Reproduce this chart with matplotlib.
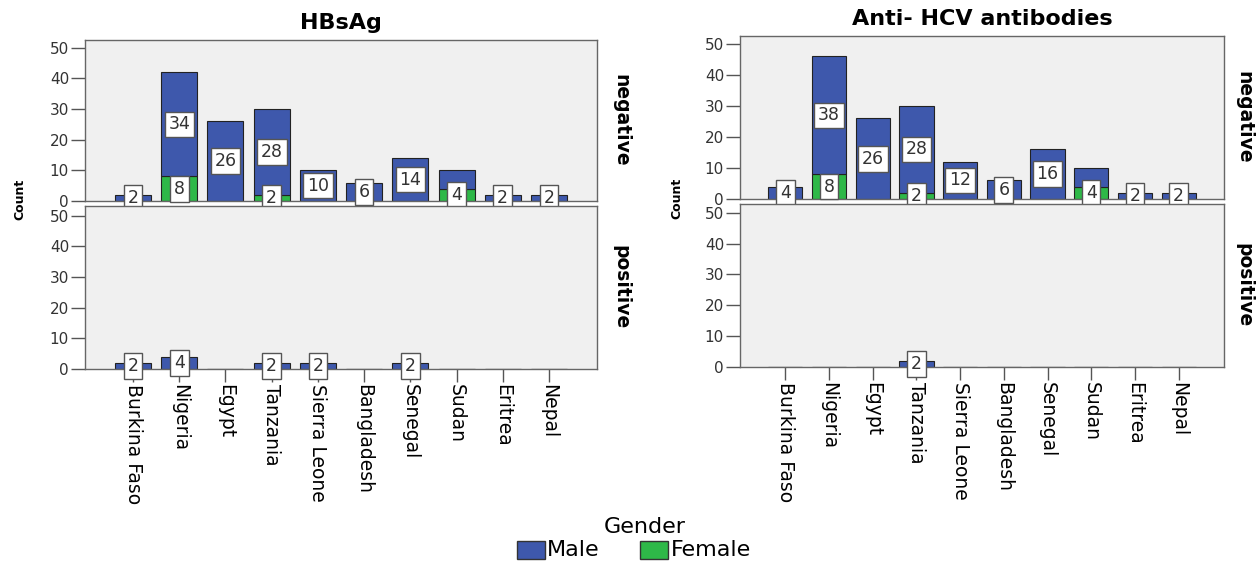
import matplotlib
matplotlib.use("Agg")
import matplotlib.pyplot as plt
from matplotlib.patches import Rectangle
import numpy as np

plt.rcParams['font.family'] = ['DejaVu Sans']

countries = ["Burkina Faso", "Nigeria", "Egypt", "Tanzania", "Sierra Leone",
             "Bangladesh", "Senegal", "Sudan", "Eritrea", "Nepal"]

# HBsAg
hbs_neg_male = [2, 34, 26, 28, 10, 6, 14, 6, 2, 2]
hbs_neg_female = [0, 8, 0, 2, 0, 0, 0, 4, 0, 0]
hbs_pos_male = [2, 4, 0, 2, 2, 0, 2, 0, 0, 0]
hbs_pos_female = [0, 0, 0, 0, 0, 0, 0, 0, 0, 0]
# Anti-HCV antibodies
hcv_neg_male = [4, 38, 26, 28, 12, 6, 16, 6, 2, 2]
hcv_neg_female = [0, 8, 0, 2, 0, 0, 0, 4, 0, 0]
hcv_pos_male = [0, 0, 0, 2, 0, 0, 0, 0, 0, 0]
hcv_pos_female = [0, 0, 0, 0, 0, 0, 0, 0, 0, 0]
# male-segment labels not displayed in the original (Sudan)
hidden_male_label = ["Sudan"]

yticks = [0, 10, 20, 30, 40, 50]
MALE = "#3E58AC"
FEMALE = "#2EB848"

W, H = 1259, 562
fig = plt.figure(figsize=(W / 100, H / 100), dpi=100)


def px_axes(x0, x1, y0, y1):
    return fig.add_axes([x0 / W, 1 - y1 / H, (x1 - x0) / W, (y1 - y0) / H])


def box_label(ax, x, y, val):
    ax.text(x, y, str(val), ha="center", va="center", fontsize=12.5, color="#333333",
            zorder=5, clip_on=False,
            bbox=dict(boxstyle="square,pad=0.22", fc="white", ec="#555555", lw=1))


def draw(ax, male, female, bottom_panel, ytop):
    x = np.arange(len(countries))
    ax.set_facecolor("#F0F0F0")
    ax.bar(x, female, width=0.78, color=FEMALE, edgecolor="#222222", linewidth=0.8, zorder=2)
    ax.bar(x, male, width=0.78, bottom=female, color=MALE, edgecolor="#222222", linewidth=0.8, zorder=2)
    for i in range(len(countries)):
        if female[i] > 0:
            box_label(ax, x[i], female[i] / 2, female[i])
        if male[i] > 0 and countries[i] not in hidden_male_label:
            box_label(ax, x[i], female[i] + male[i] / 2, male[i])
    ax.set_xlim(-1.04, len(countries) - 1 + 1.04)
    ax.set_ylim(0, ytop)
    ax.set_yticks(yticks)
    ax.tick_params(axis="y", direction="out", length=10, width=1, color="#555555",
                   labelcolor="#333333", labelsize=11, pad=1.5)
    for s in ax.spines.values():
        s.set_color("#666666")
        s.set_linewidth(1)
    ax.set_xticks(x)
    if bottom_panel:
        ax.set_xticklabels(countries, rotation=-90, ha="center", va="top", fontsize=13.5)
        ax.tick_params(axis="x", direction="out", length=9, width=1, color="#555555", pad=2)
    else:
        ax.tick_params(axis="x", bottom=False, labelbottom=False)


# Left facet (HBsAg)
axLT = px_axes(85, 597, 40, 201)
axLB = px_axes(85, 597, 206, 369)
draw(axLT, hbs_neg_male, hbs_neg_female, False, 52.5)
draw(axLB, hbs_pos_male, hbs_pos_female, True, 53.2)
axLT.set_title("HBsAg", fontsize=16, fontweight="bold", pad=8)

# Right facet (Anti-HCV)
axRT = px_axes(740, 1224, 36, 199)
axRB = px_axes(740, 1224, 204, 367)
draw(axRT, hcv_neg_male, hcv_neg_female, False, 52.6)
draw(axRB, hcv_pos_male, hcv_pos_female, True, 52.8)
axRT.set_title("Anti- HCV antibodies", fontsize=16, fontweight="bold", pad=8)

# strip labels
for ax, lab, xc in [(axLT, "negative", 621), (axLB, "positive", 621),
                    (axRT, "negative", 1244), (axRB, "positive", 1244)]:
    bb = ax.get_position()
    fig.text(xc / W, (bb.y0 + bb.y1) / 2, lab, rotation=-90, ha="center", va="center",
             fontsize=13.5, fontweight="bold")

# Count labels
fig.text(20 / W, 1 - 199 / H, "Count", rotation=90, ha="center", va="center", fontsize=9, fontweight="bold")
fig.text(677 / W, 1 - 198 / H, "Count", rotation=90, ha="center", va="center", fontsize=9, fontweight="bold")

# Legend
fig.text(645 / W, 1 - 527 / H, "Gender", ha="center", va="center", fontsize=16)
fig.add_artist(Rectangle((517 / W, 1 - 559 / H), 28 / W, 18 / H, transform=fig.transFigure,
                         fc=MALE, ec="#333333", lw=1))
fig.text(547 / W, 1 - 550 / H, "Male", ha="left", va="center", fontsize=16)
fig.add_artist(Rectangle((640 / W, 1 - 559 / H), 28 / W, 18 / H, transform=fig.transFigure,
                         fc=FEMALE, ec="#333333", lw=1))
fig.text(671 / W, 1 - 550 / H, "Female", ha="left", va="center", fontsize=16)

fig.savefig("out.png", dpi=100, facecolor="white")
